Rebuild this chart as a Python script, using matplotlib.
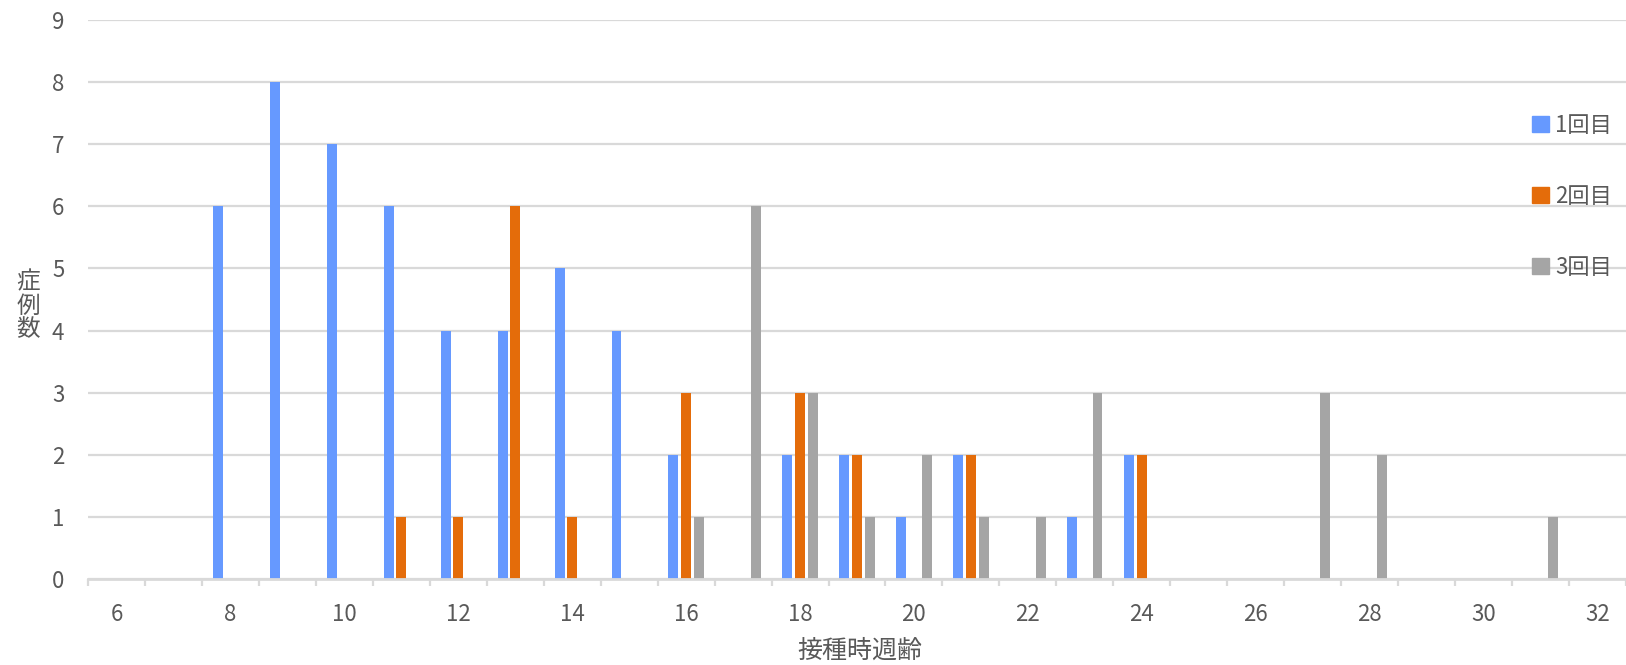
"""
Vaccination age histogram: number of cases by week of age at each dose.
"""

import matplotlib.pyplot as plt
import matplotlib.patches as mpatches
import numpy as np

plt.rcParams["font.family"] = ["Noto Sans CJK JP", "DejaVu Sans"]

weeks = list(range(6, 33))
dose1 = [0, 0, 6, 8, 7, 6, 4, 4, 5, 4, 2, 0, 2, 2, 1, 2, 0, 1, 2, 0, 0, 0, 0, 0, 0, 0, 0]
dose2 = [0, 0, 0, 0, 0, 1, 1, 6, 1, 0, 3, 0, 3, 2, 0, 2, 0, 0, 2, 0, 0, 0, 0, 0, 0, 0, 0]
dose3 = [0, 0, 0, 0, 0, 0, 0, 0, 0, 0, 1, 6, 3, 1, 2, 1, 1, 3, 0, 0, 0, 3, 2, 0, 0, 1, 0]
series_labels = ["1回目", "2回目", "3回目"]
yticks = list(range(0, 10))

TEXT = "#595959"
GRID = "#D9D9D9"
colors = ["#6699FF", "#E46C0A", "#A5A5A5"]

W, H = 1626, 665
fig = plt.figure(figsize=(W / 100, H / 100), dpi=100)
fig.patch.set_facecolor("white")
ax = fig.add_axes([88 / W, 1 - 579 / H, 1 - 88 / W, (579 - 20) / H])

x = np.arange(len(weeks))
step = 0.222
bw = 0.175
for k, (vals, col) in enumerate(zip([dose1, dose2, dose3], colors)):
    ax.bar(x + (k - 1) * step, vals, width=bw, color=col, linewidth=0, zorder=3)

ax.set_ylim(0, 9)
ax.set_xlim(-0.5, (W - 88) / 57.2 - 0.5)

ax.set_yticks(yticks)
ax.set_yticklabels([str(v) for v in yticks])
ax.yaxis.grid(True, color=GRID, linewidth=1.6, zorder=0)
ax.tick_params(axis="y", length=0, pad=17, labelsize=16, labelcolor=TEXT)

even = [i for i, w in enumerate(weeks) if w % 2 == 0]
ax.set_xticks(even)
ax.set_xticklabels([str(weeks[i]) for i in even])
ax.set_xticks(np.arange(len(weeks) + 1) - 0.5, minor=True)
ax.tick_params(axis="x", which="major", length=0, pad=17, labelsize=16, labelcolor=TEXT)
ax.tick_params(axis="x", which="minor", length=5, width=1.6, color=GRID, direction="out")

for side in ["top", "right", "left"]:
    ax.spines[side].set_visible(False)
ax.spines["bottom"].set_color(GRID)
ax.spines["bottom"].set_linewidth(2)
ax.spines["bottom"].set_zorder(4)

fig.text(860 / W, 1 - 651 / H, "接種時週齢", ha="center", va="center",
         fontsize=18, color=TEXT)
fig.text(28 / W, 1 - 306 / H, "症\n例\n数", ha="center", va="center",
         fontsize=17, color=TEXT, linespacing=1.05)

handles = [mpatches.Patch(color=c, label=l) for c, l in zip(colors, series_labels)]
leg = fig.legend(handles=handles, loc="upper left",
                 bbox_to_anchor=(1512 / W, 1 - 94 / H), frameon=False,
                 fontsize=16, handlelength=0.75, handleheight=0.75,
                 handletextpad=0.3, labelspacing=2.15, labelcolor=TEXT)

fig.savefig("out.png", dpi=100, facecolor="white")
